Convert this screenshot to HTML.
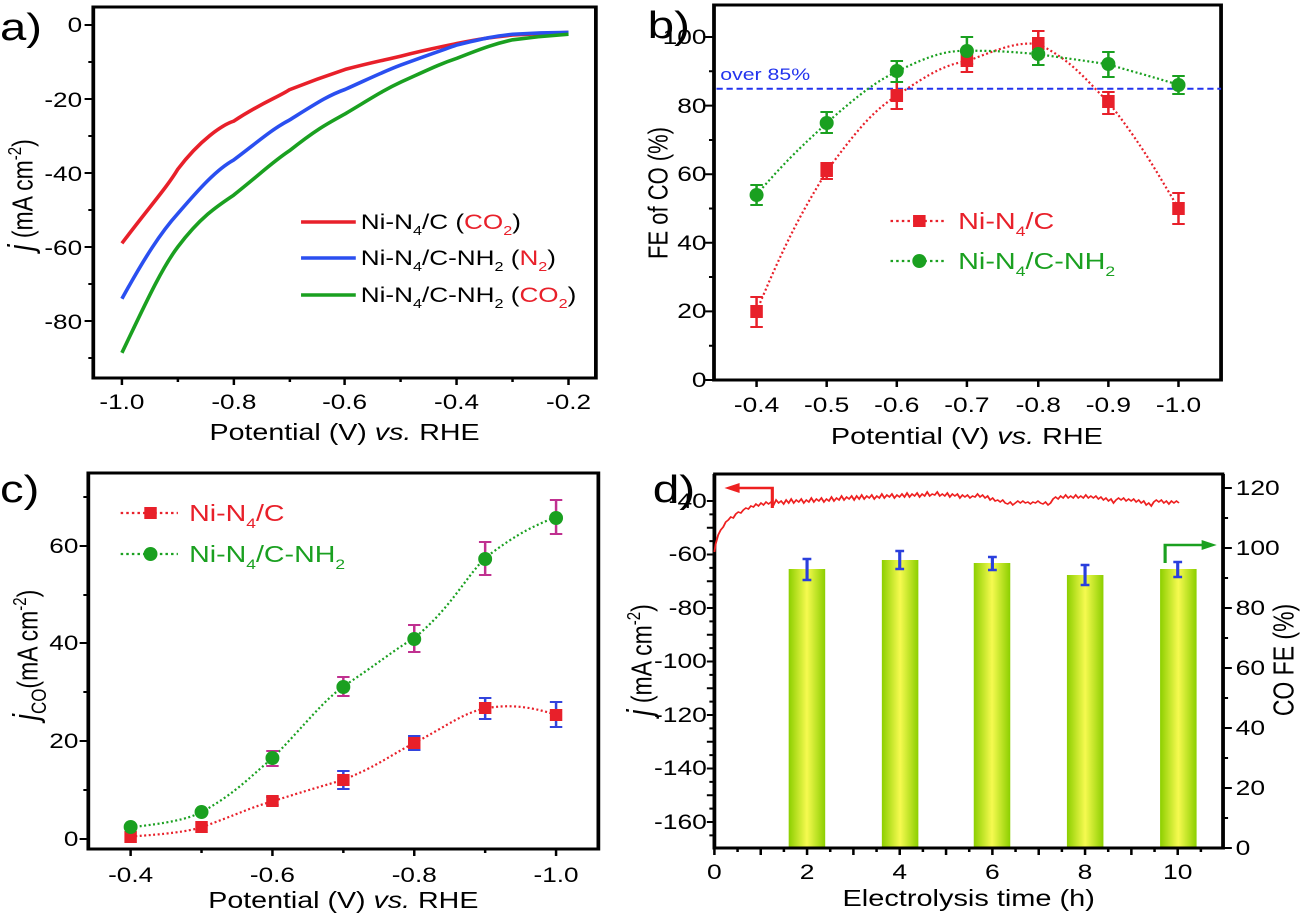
<!DOCTYPE html>
<html><head><meta charset="utf-8"><style>
html,body{margin:0;padding:0;background:#fff}
svg{display:block;font-family:"Liberation Sans",sans-serif}
</style></head><body>
<svg width="1305" height="920" viewBox="0 0 1305 920" xmlns="http://www.w3.org/2000/svg">
<defs>
<linearGradient id="bg" x1="0" x2="1" y1="0" y2="0">
<stop offset="0" stop-color="#8ccf00"/><stop offset="0.5" stop-color="#f6fa50"/><stop offset="1" stop-color="#8ccf00"/>
</linearGradient>
</defs>

<!-- ===== Panel a ===== -->
<g transform="scale(1.244,1)">
<text x="0" y="40" font-size="38">a)</text>
<g stroke="#000" stroke-width="2">
<rect x="75" y="7" width="404" height="371" fill="none" stroke-width="3"/>
<path d="M98 378v7M143 378v4M188 378v7M233 378v4M277 378v7M322 378v4M367 378v7M412 378v4M457 378v7"/>
<path d="M75 25h-7M75 62h-4M75 99h-7M75 136h-4M75 173h-7M75 210h-4M75 247h-7M75 284h-4M75 321h-7M75 358h-4"/>
</g>
<g font-size="21" text-anchor="end"><text x="66" y="32">0</text><text x="66" y="107">-20</text><text x="66" y="181">-40</text><text x="66" y="255">-60</text><text x="66" y="329">-80</text></g>
<g font-size="21" text-anchor="middle"><text x="98" y="409">-1.0</text><text x="188" y="409">-0.8</text><text x="277" y="409">-0.6</text><text x="367" y="409">-0.4</text><text x="457" y="409">-0.2</text>
<text x="277" y="440" font-size="23">Potential (V) <tspan font-style="italic">vs.</tspan> RHE</text></g>
<text transform="translate(26,195) rotate(-90)" text-anchor="middle" font-size="23"><tspan font-style="italic" font-size="28">j</tspan> (mA cm<tspan dy="-9" font-size="15">-2</tspan><tspan dy="9">)</tspan></text>
<g fill="none" stroke-width="3.6" transform="translate(98,25) scale(448.75,3.7)">
<path vector-effect="non-scaling-stroke" stroke="#e8202a" d="M0 59C0.05 49 0.08 44 0.1 39C0.14 31 0.18 27 0.2 26C0.25 21 0.28 19.5 0.3 17.5C0.35 14.5 0.37 13.5 0.4 12C0.45 10 0.47 9.5 0.5 8.4C0.55 6.5 0.57 6 0.6 5C0.65 3.5 0.67 3.2 0.7 2.7C0.75 2.3 0.77 2.2 0.8 2"/>
<path vector-effect="non-scaling-stroke" stroke="#2a4ff0" d="M0 74C0.04 63 0.07 56 0.1 51C0.14 44 0.17 39 0.2 36.5C0.24 32 0.27 28 0.3 25.7C0.35 21 0.37 19 0.4 17.4C0.45 14 0.47 12.5 0.5 10.8C0.55 8 0.57 7 0.6 5.4C0.65 3.5 0.67 3 0.7 2.5C0.75 2 0.77 2 0.8 2"/>
<path vector-effect="non-scaling-stroke" stroke="#1aa020" d="M0 88.6C0.04 76 0.07 66 0.1 60C0.14 52 0.17 49 0.2 46C0.25 40 0.27 37 0.3 34C0.35 28 0.37 26.5 0.4 24C0.45 19.5 0.47 17.5 0.5 15.4C0.55 12 0.57 10.5 0.6 9C0.65 6 0.67 5 0.7 4C0.75 3 0.77 2.8 0.8 2.5"/>
</g>
<g stroke-width="3.5"><path d="M242 222h44" stroke="#e8202a"/><path d="M242 258h44" stroke="#2a4ff0"/><path d="M242 295h44" stroke="#1aa020"/></g>
<g font-size="21"><text x="290" y="229">Ni-N<tspan dy="6" font-size="13">4</tspan><tspan dy="-6">/C (</tspan><tspan fill="#e8202a">CO<tspan dy="6" font-size="13">2</tspan></tspan><tspan dy="-6">)</tspan></text>
<text x="290" y="265">Ni-N<tspan dy="6" font-size="13">4</tspan><tspan dy="-6">/C-NH</tspan><tspan dy="6" font-size="13">2</tspan><tspan dy="-6"> (</tspan><tspan fill="#e8202a">N<tspan dy="6" font-size="13">2</tspan></tspan><tspan dy="-6">)</tspan></text>
<text x="290" y="302">Ni-N<tspan dy="6" font-size="13">4</tspan><tspan dy="-6">/C-NH</tspan><tspan dy="6" font-size="13">2</tspan><tspan dy="-6"> (</tspan><tspan fill="#e8202a">CO<tspan dy="6" font-size="13">2</tspan></tspan><tspan dy="-6">)</tspan></text></g>
</g>

<!-- ===== Panel b ===== -->
<g transform="translate(714,0) scale(1.252,1) translate(-701,0)">
<text x="648" y="38" font-size="38">b)</text>
<g stroke="#000" stroke-width="2">
<rect x="701" y="5" width="405" height="375" fill="none" stroke-width="3"/>
<path d="M735 380v7M791 380v7M847 380v7M903 380v7M960 380v7M1016 380v7M1072 380v7"/>
<path d="M701 380h-7M701 345.7h-4M701 311.4h-7M701 277h-4M701 242.8h-7M701 208.5h-4M701 174.2h-7M701 140h-4M701 105.6h-7M701 71.3h-4M701 37h-7"/>
</g>
<g font-size="21" text-anchor="end"><text x="695" y="387">0</text><text x="695" y="318">20</text><text x="695" y="250">40</text><text x="695" y="181">60</text><text x="695" y="113">80</text><text x="695" y="44">100</text></g>
<g font-size="21" text-anchor="middle"><text x="735" y="412">-0.4</text><text x="791" y="412">-0.5</text><text x="847" y="412">-0.6</text><text x="903" y="412">-0.7</text><text x="960" y="412">-0.8</text><text x="1016" y="412">-0.9</text><text x="1072" y="412">-1.0</text>
<text x="903" y="444" font-size="23">Potential (V) <tspan font-style="italic">vs.</tspan> RHE</text></g>
<text transform="translate(664,193) rotate(-90)" text-anchor="middle" font-size="22">FE of CO (%)</text>
<path d="M703 88.7H1106" stroke="#2233ee" stroke-width="2" stroke-dasharray="5,3"/>
<text x="706" y="80" font-size="17" fill="#2233ee">over 85%</text>
<g fill="none" stroke-width="2.2" stroke-dasharray="2,2.5" transform="translate(735,380) scale(562,-3.43)">
<path vector-effect="non-scaling-stroke" stroke="#e8202a" d="M0 20C0.05 45 0.08 54 0.1 61C0.15 75 0.17 79 0.2 83C0.25 90 0.27 92 0.3 93C0.35 97 0.37 98.5 0.4 98C0.45 93 0.47 87 0.5 81C0.55 68 0.57 60 0.6 50"/>
<path vector-effect="non-scaling-stroke" stroke="#1aa020" d="M0 54C0.05 66 0.08 71 0.1 75C0.15 84 0.17 87 0.2 90C0.25 95 0.27 96 0.3 96C0.35 96 0.37 95.5 0.4 95C0.45 93.5 0.47 93 0.5 92C0.55 89 0.57 88 0.6 86"/>
</g>
<g stroke="#e8202a" stroke-width="2" fill="none"><path d="M735 297v30M730 297h10M730 327h10M791 163v16M786 163h10M786 179h10M847 82v27M842 82h10M842 109h10M903 51v21M898 51h10M898 72h10M960 31v26M955 31h10M955 57h10M1016 92v22M1011 92h10M1011 114h10M1072 193v31M1067 193h10M1067 224h10"/></g>
<g stroke="#1aa020" stroke-width="2" fill="none"><path d="M735 185v20M730 185h10M730 205h10M791 112v21M786 112h10M786 133h10M847 61v21M842 61h10M842 82h10M903 37v27M898 37h10M898 64h10M960 43v22M955 43h10M955 65h10M1016 52v25M1011 52h10M1011 77h10M1072 76v18M1067 76h10M1067 94h10"/></g>
<g fill="#e8202a"><rect x="730" y="305" width="10" height="13"/><rect x="786" y="164" width="10" height="13"/><rect x="842" y="89" width="10" height="13"/><rect x="898" y="54" width="10" height="13"/><rect x="955" y="37" width="10" height="13"/><rect x="1011" y="95" width="10" height="13"/><rect x="1067" y="202" width="10" height="13"/></g>
<g fill="#1aa020"><ellipse cx="735" cy="195" rx="5.6" ry="7"/><ellipse cx="791" cy="123" rx="5.6" ry="7"/><ellipse cx="847" cy="71" rx="5.6" ry="7"/><ellipse cx="903" cy="51" rx="5.6" ry="7"/><ellipse cx="960" cy="54" rx="5.6" ry="7"/><ellipse cx="1016" cy="64" rx="5.6" ry="7"/><ellipse cx="1072" cy="85" rx="5.6" ry="7"/></g>
<path d="M842 221h45" stroke="#e8202a" stroke-width="2.2" stroke-dasharray="2,2.5"/><rect x="860" y="215" width="10" height="12" fill="#e8202a"/>
<path d="M842 261h45" stroke="#1aa020" stroke-width="2.2" stroke-dasharray="2,2.5"/><ellipse cx="865" cy="261" rx="5.6" ry="7" fill="#1aa020"/>
<g font-size="23"><text x="896" y="229" fill="#e8202a">Ni-N<tspan dy="7" font-size="14">4</tspan><tspan dy="-7">/C</tspan></text>
<text x="896" y="269" fill="#1aa020">Ni-N<tspan dy="7" font-size="14">4</tspan><tspan dy="-7">/C-NH</tspan><tspan dy="7" font-size="14">2</tspan></text></g>
</g>

<!-- ===== Panel c ===== -->
<g transform="scale(1.244,1)">
<text x="0" y="502" font-size="38">c)</text>
<g stroke="#000" stroke-width="2">
<rect x="71" y="473" width="410" height="376" fill="none" stroke-width="3"/>
<path d="M105 849v7M162 849v4M219 849v7M276 849v4M333 849v7M390 849v4M447 849v7"/>
<path d="M71 839h-7M71 790h-4M71 741h-7M71 692h-4M71 643h-7M71 595h-4M71 546h-7M71 497h-4"/>
</g>
<g font-size="21" text-anchor="end"><text x="63" y="846">0</text><text x="63" y="748">20</text><text x="63" y="650">40</text><text x="63" y="553">60</text></g>
<g font-size="21" text-anchor="middle"><text x="105" y="882">-0.4</text><text x="219" y="882">-0.6</text><text x="333" y="882">-0.8</text><text x="447" y="882">-1.0</text>
<text x="276" y="908" font-size="23">Potential (V) <tspan font-style="italic">vs.</tspan> RHE</text></g>
<text transform="translate(30,655) rotate(-90)" text-anchor="middle" font-size="23"><tspan font-style="italic" font-size="28">j</tspan><tspan dy="7" font-size="17">CO</tspan><tspan dy="-7">(mA cm</tspan><tspan dy="-9" font-size="15">-2</tspan><tspan dy="9">)</tspan></text>
<g fill="none" stroke-width="2.2" stroke-dasharray="2,2.5" transform="translate(105,839) scale(570,-4.89)">
<path vector-effect="non-scaling-stroke" stroke="#e8202a" d="M0 0.5C0.05 1 0.08 1.5 0.1 2.4C0.15 5 0.17 6.5 0.2 7.7C0.25 10 0.27 10.8 0.3 12.1C0.35 15 0.37 17.5 0.4 19.6C0.45 23.5 0.47 25.8 0.5 26.7C0.53 27.5 0.56 27.3 0.6 25.4"/>
<path vector-effect="non-scaling-stroke" stroke="#1aa020" d="M0 2.4C0.05 3.2 0.08 4 0.1 5.5C0.15 9.5 0.17 13 0.2 16.5C0.25 24 0.27 28 0.3 31.2C0.35 36 0.37 38.5 0.4 41.1C0.45 47 0.47 53 0.5 57.5C0.55 63 0.57 64 0.6 65.9"/>
</g>
<g stroke="#3344dd" stroke-width="2" fill="none"><path d="M162 821v12M219 797v8M214 797h10M214 805h10M276 771v18M271 771h10M271 789h10M333 736v14M328 736h10M328 750h10M390 698v21M385 698h10M385 719h10M447 702v25M442 702h10M442 727h10"/></g>
<g stroke="#c03090" stroke-width="2" fill="none"><path d="M219 751v15M214 751h10M214 766h10M276 677v19M271 677h10M271 696h10M333 625v27M328 625h10M328 652h10M390 542v33M385 542h10M385 575h10M447 500v34M442 500h10M442 534h10"/></g>
<g fill="#e8202a"><rect x="100" y="831" width="10" height="12"/><rect x="157" y="821" width="10" height="12"/><rect x="214" y="795" width="10" height="12"/><rect x="271" y="774" width="10" height="12"/><rect x="328" y="737" width="10" height="12"/><rect x="385" y="702" width="10" height="12"/><rect x="442" y="709" width="10" height="12"/></g>
<g fill="#1aa020"><ellipse cx="105" cy="827" rx="5.6" ry="7"/><ellipse cx="162" cy="812" rx="5.6" ry="7"/><ellipse cx="219" cy="758" rx="5.6" ry="7"/><ellipse cx="276" cy="687" rx="5.6" ry="7"/><ellipse cx="333" cy="639" rx="5.6" ry="7"/><ellipse cx="390" cy="559" rx="5.6" ry="7"/><ellipse cx="447" cy="518" rx="5.6" ry="7"/></g>
<path d="M97 513h46" stroke="#e8202a" stroke-width="2.2" stroke-dasharray="2,2.5"/><rect x="116" y="507" width="10" height="12" fill="#e8202a"/>
<path d="M97 554h46" stroke="#1aa020" stroke-width="2.2" stroke-dasharray="2,2.5"/><ellipse cx="121" cy="554" rx="5.6" ry="7" fill="#1aa020"/>
<g font-size="23"><text x="152" y="521" fill="#e8202a">Ni-N<tspan dy="7" font-size="14">4</tspan><tspan dy="-7">/C</tspan></text>
<text x="152" y="562" fill="#1aa020">Ni-N<tspan dy="7" font-size="14">4</tspan><tspan dy="-7">/C-NH</tspan><tspan dy="7" font-size="14">2</tspan></text></g>
</g>

<!-- ===== Panel d ===== -->
<g transform="translate(714.4,0) scale(1.259,1) translate(-701,0)">
<text x="652" y="502" font-size="38">d)</text>
<g fill="url(#bg)"><rect x="760" y="569" width="29" height="279"/><rect x="834" y="560" width="29" height="288"/><rect x="907" y="563" width="29" height="285"/><rect x="981" y="575" width="29" height="273"/><rect x="1055" y="569" width="29" height="279"/></g>
<g stroke="#2a3fdd" stroke-width="2.5" fill="none"><path d="M774.6 559v21M771 559h7M771 580h7M848.2 551v18M844.7 551h7M844.7 569h7M921.8 557v13M918.3 557h7M918.3 570h7M995.4 565v20M991.9 565h7M991.9 585h7M1069 562v15M1065.5 562h7M1065.5 577h7"/></g>
<g stroke="#000" stroke-width="2">
<path d="M701 474V848H1105V474" fill="none" stroke-width="3"/><path d="M700 474H1106" stroke-width="3"/>
<path d="M701 848v7M719.4 848v4M737.8 848v7M756.2 848v4M774.6 848v7M793 848v4M811.4 848v7M829.8 848v4M848.2 848v7M866.6 848v4M885 848v7M903.4 848v4M921.8 848v7M940.2 848v4M958.6 848v7M977 848v4M995.4 848v7M1013.8 848v4M1032.2 848v7M1050.6 848v4M1069 848v7M1087.4 848v4"/>
<path d="M701 501h-6M701 514.4h-4M701 527.8h-6M701 541.1h-4M701 554.5h-6M701 567.9h-4M701 581.3h-6M701 594.6h-4M701 608h-6M701 621.4h-4M701 634.8h-6M701 648.1h-4M701 661.5h-6M701 674.9h-4M701 688.3h-6M701 701.6h-4M701 715h-6M701 728.4h-4M701 741.8h-6M701 755.1h-4M701 768.5h-6M701 781.9h-4M701 795.3h-6M701 808.6h-4M701 822h-6M701 835.4h-4"/>
<path d="M1105 848h7M1105 818h4M1105 788h7M1105 758h4M1105 728h7M1105 698h4M1105 668h7M1105 638h4M1105 608h7M1105 578h4M1105 548h7M1105 518h4M1105 488h7"/>
</g>
<g font-size="21" text-anchor="end"><text x="695" y="508">-40</text><text x="695" y="561">-60</text><text x="695" y="615">-80</text><text x="695" y="668">-100</text><text x="695" y="722">-120</text><text x="695" y="775">-140</text><text x="695" y="829">-160</text></g>
<g font-size="21"><text x="1115" y="855">0</text><text x="1115" y="795">20</text><text x="1115" y="735">40</text><text x="1115" y="675">60</text><text x="1115" y="615">80</text><text x="1115" y="555">100</text><text x="1115" y="495">120</text></g>
<g font-size="21" text-anchor="middle"><text x="701" y="879">0</text><text x="774.6" y="879">2</text><text x="848.2" y="879">4</text><text x="921.8" y="879">6</text><text x="995.4" y="879">8</text><text x="1069" y="879">10</text>
<text x="903" y="906" font-size="23">Electrolysis time (h)</text></g>
<text transform="translate(651,660) rotate(-90)" text-anchor="middle" font-size="23"><tspan font-style="italic" font-size="28">j</tspan> (mA cm<tspan dy="-9" font-size="15">-2</tspan><tspan dy="9">)</tspan></text>
<text transform="translate(1161,660) rotate(-90)" text-anchor="middle" font-size="23">CO FE  (%)</text>
<polyline fill="none" stroke="#ee2020" stroke-width="1.5" points="701,552 702,544 704,535 706,530 708,527 710,522 712,520 714,517 716,518 718,514 720,512 722,513 724,510 726,508 728,509 730,506 732,507 734,504 736,506 738,503 740,505 742,502 744,504 746,502 748,505 750,500 752,503 754,501 756,504 758,500 760,503 762,499 764,503 766,500 768,502 770,499 772,503 774,500 776,502 778,498 780,502 782,499 784,501 786,498 788,502 790,499 792,501 794,497 796,501 798,498 800,500 802,496 804,500 806,497 808,499 810,496 812,500 814,496 816,499 818,495 820,499 822,496 824,498 826,495 828,499 830,496 832,498 834,494 836,498 838,495 840,497 842,494 844,498 846,495 848,497 850,494 852,497 854,493 856,497 858,494 860,496 862,493 864,497 866,494 868,496 870,492 872,496 874,494 876,495 878,492 880,496 882,494 884,496 886,493 888,497 890,494 892,496 894,494 896,498 898,495 900,497 902,495 904,498 906,496 908,497 910,494 912,497 914,495 916,498 918,496 920,500 922,498 924,501 926,500 928,502 930,500 932,503 934,504 936,502 938,505 940,503 942,501 944,503 946,501 948,503 950,502 952,504 954,502 956,503 958,501 960,503 962,504 964,502 966,505 968,503 970,499 972,497 974,499 976,496 978,498 980,495 982,498 984,496 986,498 988,495 990,498 992,496 994,498 996,495 998,498 1000,496 1002,498 1004,496 1006,499 1008,497 1010,500 1012,498 1014,501 1016,499 1018,503 1020,500 1022,498 1024,500 1026,498 1028,501 1030,499 1032,501 1034,499 1036,502 1038,500 1040,503 1042,501 1044,505 1046,503 1048,506 1050,502 1052,500 1054,502 1056,500 1058,503 1060,501 1062,504 1064,501 1066,503 1068,501 1070,503"/>
<g stroke="#ee2020" stroke-width="2.5" fill="none"><path d="M747 508V488H716"/></g><path d="M709 488l12-5v10z" fill="#ee2020"/>
<g stroke="#1aa020" stroke-width="2.5" fill="none"><path d="M1059 563V545H1090"/></g><path d="M1100 545l-12-5v10z" fill="#1aa020"/>
</g>
</svg>
</body></html>
